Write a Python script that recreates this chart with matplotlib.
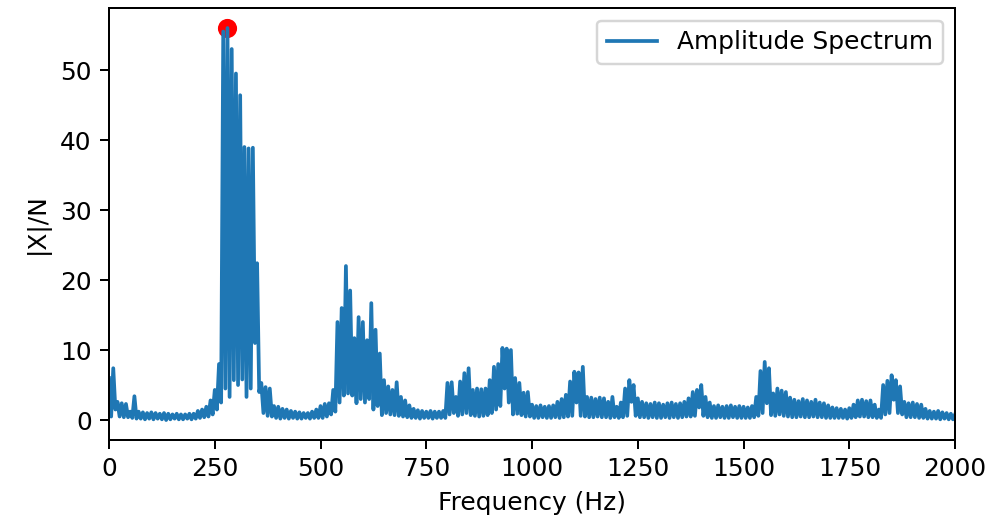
import numpy as np
import matplotlib
matplotlib.use("Agg")
import matplotlib.pyplot as plt

# frequency grid of the envelope readings (Hz), 10 Hz apart
freq = np.arange(0, 2001, 10)

# upper envelope of the spectrum
amp_hi = [
    6.0, 7.4, 2.6, 2.4, 2.3, 1.2, 3.4, 1.2, 1.1, 1.0,
    1.1, 1.0, 0.9, 1.0, 0.9, 0.8, 0.9, 0.8, 0.8, 0.9,
    0.9, 1.3, 1.5, 1.9, 2.8, 4.3, 8.0, 55.5, 56.0, 53.0,
    49.5, 46.4, 39.0, 38.8, 38.9, 22.4, 5.3, 4.7, 4.5, 2.0,
    1.9, 1.6, 1.5, 1.3, 1.2, 1.1, 1.0, 1.0, 1.2, 1.5,
    2.0, 2.3, 2.4, 4.3, 14.0, 16.0, 22.0, 18.5, 11.7, 14.7,
    14.0, 11.4, 16.7, 12.9, 9.5, 5.7, 4.8, 4.3, 5.4, 3.3,
    2.8, 2.1, 1.6, 1.4, 1.3, 1.2, 1.3, 1.2, 1.2, 1.3,
    5.3, 5.4, 3.3, 5.5, 6.7, 7.4, 4.3, 4.5, 4.4, 4.5,
    5.7, 7.6, 8.0, 10.3, 10.2, 10.0, 6.0, 5.3, 3.9, 4.0,
    2.2, 2.0, 2.1, 1.9, 2.0, 2.1, 2.6, 3.0, 3.6, 5.5,
    6.9, 6.8, 7.6, 3.3, 3.2, 3.0, 3.2, 3.1, 2.6, 3.3,
    1.9, 2.5, 4.5, 5.7, 5.0, 3.1, 2.6, 2.4, 2.3, 2.5,
    2.4, 2.2, 2.4, 2.5, 2.3, 2.4, 2.6, 3.1, 4.0, 4.3,
    5.0, 3.3, 2.5, 2.0, 2.1, 1.9, 2.0, 2.1, 1.9, 2.0,
    1.9, 1.8, 2.0, 3.3, 7.0, 8.3, 7.4, 3.8, 4.5, 4.2,
    4.0, 3.2, 2.9, 2.7, 3.0, 2.8, 2.6, 2.9, 2.5, 2.4,
    2.1, 1.8, 1.7, 1.6, 1.5, 1.7, 2.2, 2.8, 2.9, 2.7,
    2.8, 2.2, 1.5, 5.0, 5.6, 6.4, 5.7, 4.8, 2.6, 2.4,
    2.5, 2.3, 2.2, 1.6, 1.3, 1.2, 1.3, 1.1, 1.0, 0.9,
    0.8,
]

# lower envelope, sampled halfway between the upper readings
amp_lo = [
    0.5, 1.5, 0.5, 0.4, 0.4, 0.3, 0.2, 0.2, 0.1, 0.2,
    0.1, 0.2, 0.1, 0.0, 0.1, 0.2, 0.1, 0.1, 0.2, 0.1,
    0.2, 0.3, 0.4, 0.5, 0.8, 1.5, 2.5, 4.5, 3.3, 5.7,
    5.0, 5.8, 3.3, 4.5, 11.0, 4.0, 1.0, 0.6, 0.5, 0.3,
    0.2, 0.3, 0.2, 0.3, 0.2, 0.2, 0.3, 0.2, 0.3, 0.3,
    0.3, 0.5, 0.8, 1.2, 2.5, 3.5, 3.8, 3.5, 2.4, 3.0,
    2.5, 3.0, 1.5, 2.0, 0.7, 1.0, 0.8, 0.7, 0.6, 0.5,
    0.4, 0.3, 0.3, 0.2, 0.3, 0.3, 0.2, 0.3, 0.3, 0.3,
    0.8, 1.0, 0.6, 0.8, 1.0, 0.7, 0.6, 0.5, 0.6, 0.7,
    1.0, 1.5, 2.0, 4.5, 2.5, 0.8, 0.9, 0.7, 0.5, 0.5,
    0.3, 0.3, 0.4, 0.3, 0.3, 0.4, 0.3, 0.4, 0.5, 0.6,
    2.5, 0.6, 0.5, 0.4, 0.4, 0.5, 0.4, 0.4, 0.3, 0.4,
    0.3, 0.4, 0.6, 2.6, 0.6, 0.4, 0.4, 0.3, 0.4, 0.3,
    0.3, 0.4, 0.3, 0.4, 0.3, 0.4, 0.5, 0.5, 0.6, 1.8,
    0.6, 0.4, 0.3, 0.3, 0.4, 0.3, 0.3, 0.4, 0.3, 0.3,
    0.3, 0.3, 0.4, 0.6, 1.0, 2.4, 0.7, 0.6, 0.8, 0.6,
    0.5, 0.4, 0.4, 0.5, 0.4, 0.4, 0.5, 0.4, 0.4, 0.3,
    0.3, 0.3, 0.3, 0.3, 0.2, 0.3, 0.4, 0.5, 0.5, 0.4,
    0.4, 0.3, 0.3, 0.8, 1.0, 2.9, 1.0, 0.8, 0.4, 0.4,
    0.4, 0.3, 0.3, 0.2, 0.2, 0.2, 0.1, 0.2, 0.1, 0.1,
    0.1,
]

# interleave upper and lower readings into one dense trace
f = np.empty(2 * len(freq))
a = np.empty(2 * len(freq))
f[0::2] = freq
f[1::2] = freq + 5
a[0::2] = amp_hi
a[1::2] = amp_lo
keep = f <= 2000
f, a = f[keep], a[keep]

dpi = 179
fig = plt.figure(figsize=(993 / dpi, 521 / dpi), dpi=dpi)
ax = fig.add_axes([0.1098, 0.1555, 0.852, 0.829])

ax.plot(f, a, label="Amplitude Spectrum")
ipk = np.argmax(a)
ax.scatter(f[ipk], a[ipk], color="red", s=45)

ax.set_xlim(0, 2000)
ax.set_ylim(-2.85, 58.85)
ax.set_xlabel("Frequency (Hz)")
ax.set_ylabel("|X|/N")
ax.legend(loc="upper right")

fig.savefig("out.png", dpi=dpi)
